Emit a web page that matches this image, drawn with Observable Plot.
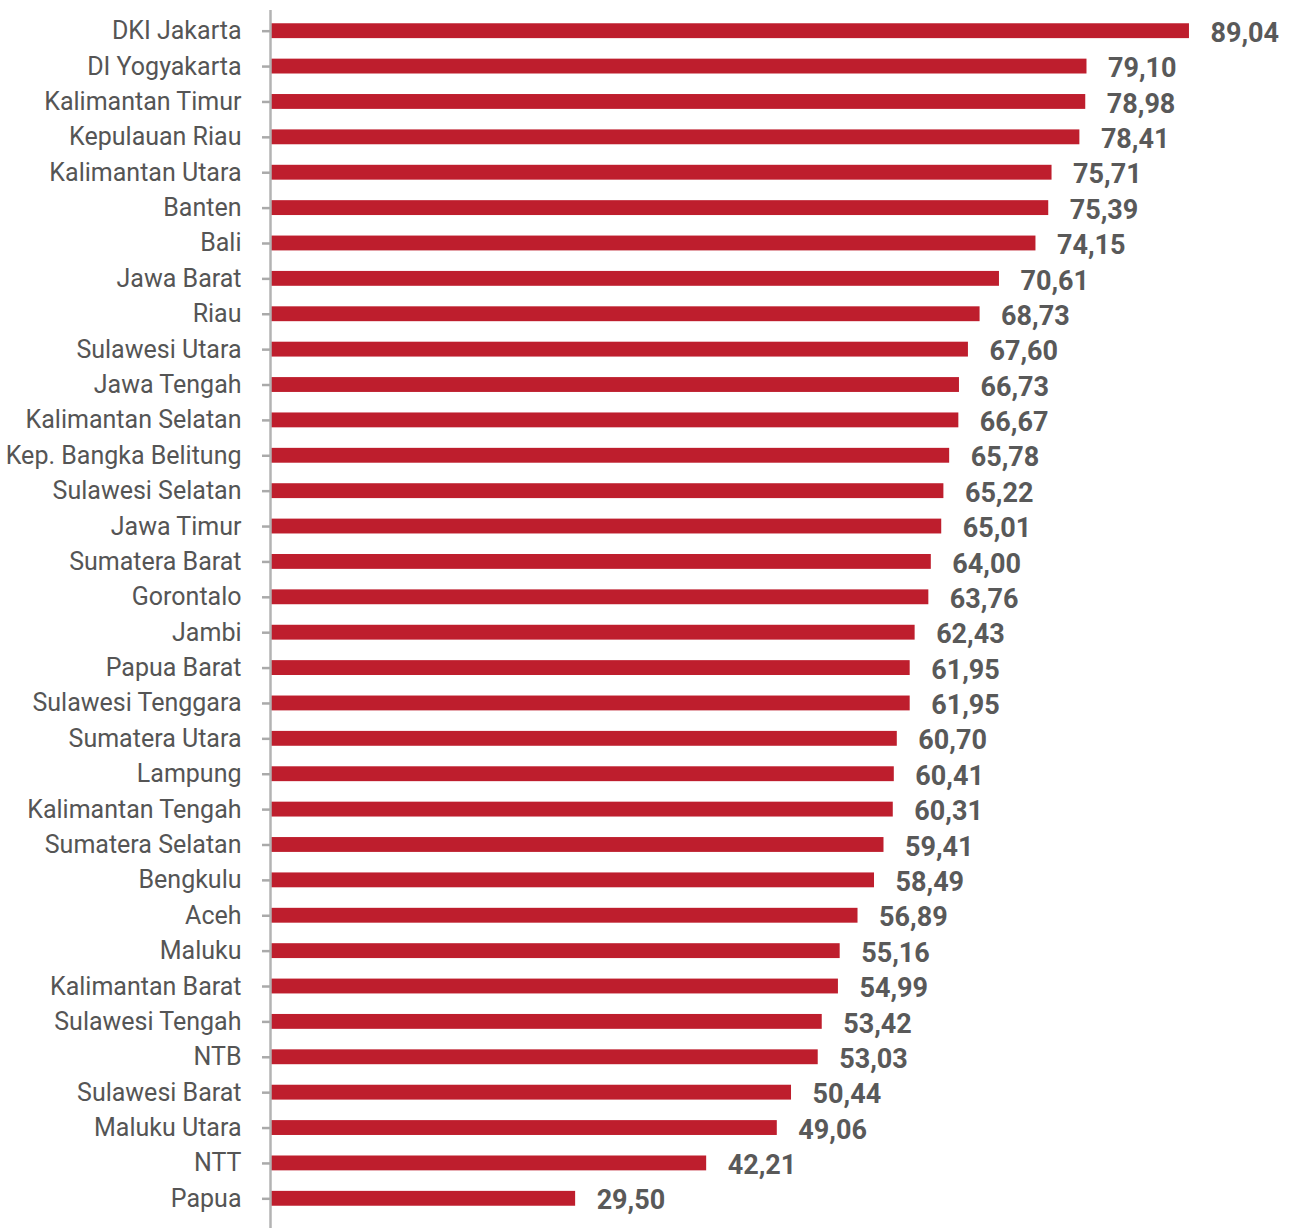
<!DOCTYPE html>
<html>
<head>
<meta charset="utf-8">
<script src="https://cdn.jsdelivr.net/npm/d3@7"></script>
<script src="https://cdn.jsdelivr.net/npm/@observablehq/plot@0.6"></script>
<style>
  html, body { margin: 0; padding: 0; background: #fff; }
  #chart { width: 1290px; height: 1228px; }
</style>
</head>
<body>
<div id="chart"></div>
<script>
const provinces = [
  "DKI Jakarta", "DI Yogyakarta", "Kalimantan Timur", "Kepulauan Riau", "Kalimantan Utara",
  "Banten", "Bali", "Jawa Barat", "Riau", "Sulawesi Utara", "Jawa Tengah",
  "Kalimantan Selatan", "Kep. Bangka Belitung", "Sulawesi Selatan", "Jawa Timur",
  "Sumatera Barat", "Gorontalo", "Jambi", "Papua Barat", "Sulawesi Tenggara",
  "Sumatera Utara", "Lampung", "Kalimantan Tengah", "Sumatera Selatan", "Bengkulu",
  "Aceh", "Maluku", "Kalimantan Barat", "Sulawesi Tengah", "NTB", "Sulawesi Barat",
  "Maluku Utara", "NTT", "Papua"
];
const values = [
  89.04, 79.10, 78.98, 78.41, 75.71,
  75.39, 74.15, 70.61, 68.73, 67.60, 66.73,
  66.67, 65.78, 65.22, 65.01,
  64.00, 63.76, 62.43, 61.95, 61.95,
  60.70, 60.41, 60.31, 59.41, 58.49,
  56.89, 55.16, 54.99, 53.42, 53.03, 50.44,
  49.06, 42.21, 29.50
];

const data = provinces.map((p, i) => ({province: p, value: values[i]}));
const fmt = v => d3.format(".2f")(v).replace(".", ",");

const chart = Plot.plot({
  width: 1290,
  height: 1228,
  marginLeft: 271,
  marginRight: 0,
  marginTop: 13,
  marginBottom: 12,
  style: {fontFamily: "Roboto, 'DejaVu Sans', sans-serif", background: "#fff"},
  x: {domain: [0, 98.84], axis: null},
  y: {domain: provinces, paddingInner: 0.58, paddingOuter: 0.29, align: 0.5, round: false, label: null},
  marks: [
    Plot.barX(data, {y: "province", x: "value", fill: "#BE1E2D"}),
    Plot.ruleX([0], {stroke: "#b3b3b3", strokeWidth: 2.5, dx: -1, insetTop: -3, insetBottom: -12}),
    Plot.axisY({
      tickSize: 8,
      tickPadding: 21,
      stroke: "#aaaaaa",
      strokeWidth: 2.5,
      fill: "#555555",
      fontSize: 25,
      label: null,
      dx: -1
    }),
    Plot.text(data, {
      y: "province", x: "value", text: d => fmt(d.value),
      textAnchor: "start", dx: 21, dy: 2,
      fill: "#595959", fontSize: 27, fontWeight: "bold"
    })
  ]
});
document.getElementById("chart").appendChild(chart);
</script>
</body>
</html>
